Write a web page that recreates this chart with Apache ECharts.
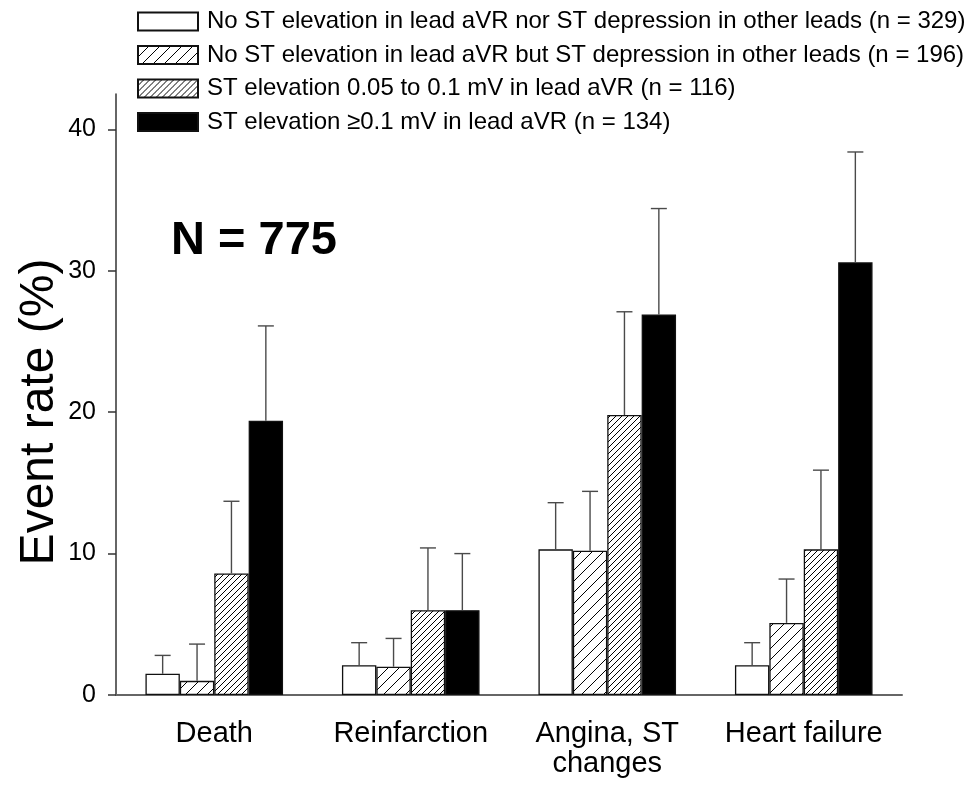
<!DOCTYPE html>
<html>
<head>
<meta charset="utf-8">
<script src="https://cdn.jsdelivr.net/npm/echarts@6/dist/echarts.min.js"></script>
<style>
  html, body { margin: 0; padding: 0; background: #ffffff; }
  #chart { width: 969px; height: 786px; }
</style>
</head>
<body>
<div id="chart"></div>
<script>
// Outcome categories on the x axis
const categories = ['Death', 'Reinfarction', 'Angina, ST\nchanges', 'Heart failure'];

// ECG groups
const groupNames = [
  'No ST elevation in lead aVR nor ST depression in other leads (n = 329)',
  'No ST elevation in lead aVR but ST depression in other leads (n = 196)',
  'ST elevation 0.05 to 0.1 mV in lead aVR (n = 116)',
  'ST elevation \u22650.1 mV in lead aVR (n = 134)'
];

// Event rates (%) and upper ends of the error bars, one value per category
const noElevNoDep      = [1.5, 2.1, 10.3, 2.1];
const noElevNoDepUpper = [2.8, 3.7, 13.6, 3.7];
const noElevDep        = [1.0, 2.0, 10.2, 5.1];
const noElevDepUpper   = [3.6, 4.0, 14.4, 8.2];
const elevMid          = [8.6, 6.0, 19.8, 10.3];
const elevMidUpper     = [13.7, 10.4, 27.1, 15.9];
const elevHigh         = [19.4, 6.0, 26.9, 30.6];
const elevHighUpper    = [26.1, 10.0, 34.4, 38.4];

// Y axis ticks
const yTicks = [0, 10, 20, 30, 40];

const FONT = 'Liberation Sans, Arial, sans-serif';
const BAR_W = 34.4;

function hatchPattern(step, lineWidth) {
  const c = document.createElement('canvas');
  c.width = step;
  c.height = step;
  const ctx = c.getContext('2d');
  ctx.fillStyle = '#ffffff';
  ctx.fillRect(0, 0, step, step);
  ctx.strokeStyle = '#000000';
  ctx.lineWidth = lineWidth;
  for (const k of [-step, 0, step]) {
    ctx.beginPath();
    ctx.moveTo(k, step);
    ctx.lineTo(k + step, 0);
    ctx.stroke();
  }
  return c;
}

const fills = [
  '#ffffff',
  { image: hatchPattern(11, 1), repeat: 'repeat' },
  { image: hatchPattern(6, 1), repeat: 'repeat' },
  '#000000'
];

const values = [noElevNoDep, noElevDep, elevMid, elevHigh];
const uppers = [noElevNoDepUpper, noElevDepUpper, elevMidUpper, elevHighUpper];

function errorBar(slot) {
  return function (params, api) {
    const cat = api.value(0);
    const base = api.coord([cat, api.value(1)]);
    const hi = api.coord([cat, api.value(2)]);
    const x = base[0] + (slot - 1.5) * BAR_W;
    const st = { stroke: '#4a4a4a', lineWidth: 1.4 };
    return {
      type: 'group',
      children: [
        { type: 'line', shape: { x1: x, y1: base[1], x2: x, y2: hi[1] }, style: st },
        { type: 'line', shape: { x1: x - 8, y1: hi[1], x2: x + 8, y2: hi[1] }, style: st }
      ]
    };
  };
}

const series = [];
values.forEach((vals, i) => {
  series.push({
    name: groupNames[i],
    type: 'bar',
    data: vals,
    barWidth: BAR_W,
    barGap: '0%',
    itemStyle: { color: fills[i], borderColor: '#111111', borderWidth: 1.3 },
    emphasis: { disabled: true },
    z: 2
  });
});
values.forEach((vals, i) => {
  series.push({
    type: 'custom',
    renderItem: errorBar(i),
    data: vals.map((v, j) => [j, v, uppers[i][j]]),
    silent: true,
    z: 3
  });
});

const chart = echarts.init(document.getElementById('chart'));
chart.setOption({
  animation: false,
  backgroundColor: '#ffffff',
  textStyle: { fontFamily: FONT },
  grid: { left: 116, right: 67, top: 94, bottom: 91, outerBoundsMode: 'none' },
  legend: {
    orient: 'vertical',
    left: 132,
    top: 4.5,
    icon: 'rect',
    itemWidth: 60,
    itemHeight: 18,
    itemGap: 9.5,
    selectedMode: false,
    data: groupNames,
    textStyle: { fontSize: 24, color: '#000000', fontFamily: FONT, padding: [0, 0, 0, 4] }
  },
  xAxis: {
    type: 'category',
    data: categories,
    axisLine: { lineStyle: { color: '#666666', width: 2 } },
    axisTick: { show: false },
    axisLabel: { interval: 0, fontSize: 29, color: '#000000', fontFamily: FONT, margin: 24, lineHeight: 30 }
  },
  yAxis: {
    type: 'value',
    min: 0,
    max: 42.5,
    axisLine: { show: true, lineStyle: { color: '#333333', width: 1.5 } },
    axisTick: { show: true, customValues: yTicks, length: 8, lineStyle: { color: '#333333', width: 1.5 } },
    axisLabel: { customValues: yTicks, fontSize: 25, color: '#000000', fontFamily: FONT, margin: 20 },
    splitLine: { show: false }
  },
  graphic: [
    {
      type: 'text',
      x: 40,
      y: 412,
      rotation: Math.PI / 2,
      style: {
        text: 'Event rate (%)', fontSize: 48, fill: '#000000', fontFamily: FONT,
        align: 'center', verticalAlign: 'middle'
      }
    },
    {
      type: 'text',
      left: 171,
      top: 218,
      style: { text: 'N = 775', fontSize: 47, fontWeight: 'bold', fill: '#000000', fontFamily: FONT }
    }
  ],
  series: series
});
</script>
</body>
</html>
